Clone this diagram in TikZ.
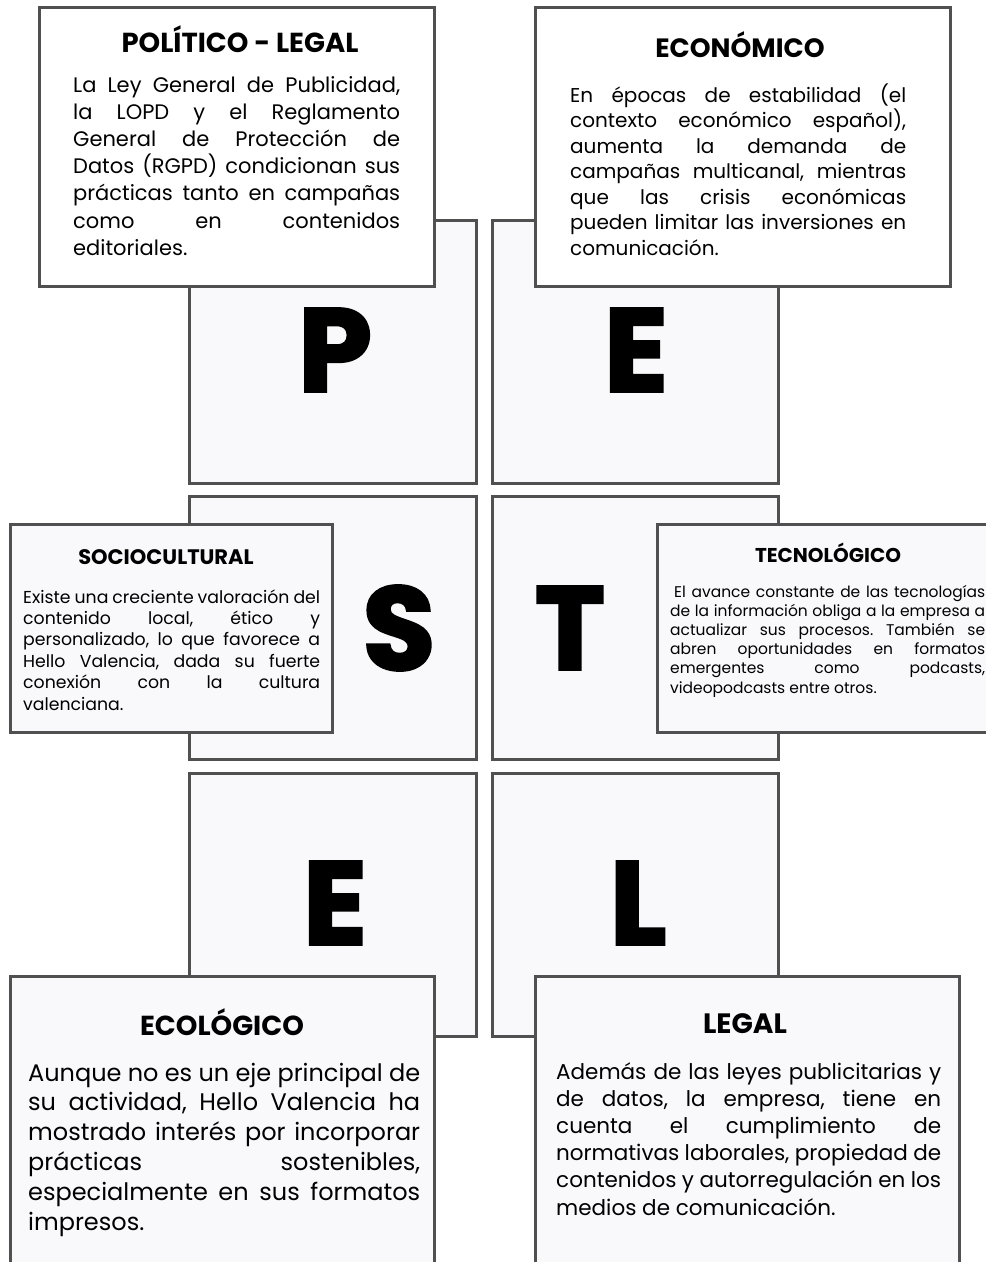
\documentclass[tikz,border=0pt]{standalone}
\usepackage{fontspec}
\setmainfont{Poppins}
\newfontfamily\heavyfont{Poppins}[BoldFeatures={FakeBold=2.5}]
\definecolor{bord}{HTML}{505050}
\definecolor{sq}{HTML}{F9F9FC}
\tikzset{
  sqbox/.style={draw=bord, line width=3pt, fill=sq},
  infobox/.style={draw=bord, line width=3pt, fill=#1},
  bigletter/.style={inner sep=0pt, font=\fontsize{118}{118}\selectfont\heavyfont\bfseries},
  ttl/.style={anchor=base, inner sep=0pt, font=\fontsize{#1}{#1}\selectfont\bfseries}
}
\frenchspacing
\newcommand{\textlines}[7]{%
  \foreach \ln [count=\i] in {#7} {
    \node[anchor=base west, inner sep=0pt, name=#1\i] at (#2, {#3+(\i-1)*#4})
      {\fontsize{#6}{#6}\selectfont\frenchspacing\makebox[#5pt][s]{\ln}};
  }}
\begin{document}
\begin{tikzpicture}[x=1pt, y=-1pt]
\useasboundingbox (0,0) rectangle (986,1262);
\clip (0,0) rectangle (986,1262);
% squares
\draw[sqbox] (189,220) rectangle (476,483);
\draw[sqbox] (492,220) rectangle (778,483);
\draw[sqbox] (189,496) rectangle (476,759);
\draw[sqbox] (492,496) rectangle (778,759);
\draw[sqbox] (189,773) rectangle (476,1036);
\draw[sqbox] (492,773) rectangle (778,1036);
% letters
\node[bigletter] (lP) at (335,350) {P};
\node[bigletter] (lE1) at (636,350) {E};
\node[bigletter] (lS) at (399,628) {S};
\node[bigletter] (lT) at (570,628) {T};
\node[bigletter] (lE2) at (335,903) {E};
\node[bigletter] (lL) at (638,903) {L};
% info boxes
\draw[infobox=white] (39,7) rectangle (434,286);
\draw[infobox=white] (535,7) rectangle (950,286);
\draw[infobox=sq] (10,524) rectangle (332,732);
\draw[infobox=sq] (657,524) rectangle (1000,732);
\draw[infobox=sq] (10,976) rectangle (434,1280);
\draw[infobox=sq] (535,976) rectangle (959,1280);
% titles
\node[ttl=27.5] (tpol) at (240,52) {POLÍTICO - LEGAL};
\node[ttl=26.5] (teco) at (740,57) {ECONÓMICO};
\node[ttl=21] (tsoc) at (166,564) {SOCIOCULTURAL};
\node[ttl=20] (ttec) at (828,562) {TECNOLÓGICO};
\node[ttl=27.5] (tecol) at (222,1035) {ECOLÓGICO};
\node[ttl=28] (tleg) at (745,1033) {LEGAL};
% bodies
\textlines{pol}{73}{92}{27.2}{327}{21}{%
  {La Ley General de Publicidad,},
  {la LOPD y el Reglamento},
  {General de Protección de},
  {Datos (RGPD) condicionan sus},
  {prácticas tanto en campañas},
  {como en contenidos},
  {editoriales.\hfill}}
\textlines{eco}{570}{102}{25.5}{336}{20}{%
  {En épocas de estabilidad (el},
  {contexto económico español),},
  {aumenta la demanda de},
  {campañas multicanal, mientras},
  {que las crisis económicas},
  {pueden limitar las inversiones en},
  {comunicación.\hfill}}
\textlines{soc}{23}{603}{21.4}{297}{17.3}{%
  {Existe una creciente valoración del},
  {contenido local, ético y},
  {personalizado, lo que favorece a},
  {Hello Valencia, dada su fuerte},
  {conexión con la cultura},
  {valenciana.\hfill}}
\textlines{tec}{670}{597}{19.2}{315}{15.5}{%
  {\hspace{4pt}El avance constante de las tecnologías},
  {de la información obliga a la empresa a},
  {actualizar sus procesos. También se},
  {abren oportunidades en formatos},
  {emergentes como podcasts,},
  {videopodcasts entre otros.\hfill}}
\textlines{ecol}{28}{1081}{29.8}{392}{24}{%
  {Aunque no es un eje principal de},
  {su actividad, Hello Valencia ha},
  {mostrado interés por incorporar},
  {prácticas sostenibles,},
  {especialmente en sus formatos},
  {impresos.\hfill}}
\textlines{leg}{556}{1079}{27.2}{385}{21.5}{%
  {Además de las leyes publicitarias y},
  {de datos, la empresa, tiene en},
  {cuenta el cumplimiento de},
  {normativas laborales, propiedad de},
  {contenidos y autorregulación en los},
  {medios de comunicación.\hfill}}
\end{tikzpicture}
\end{document}
